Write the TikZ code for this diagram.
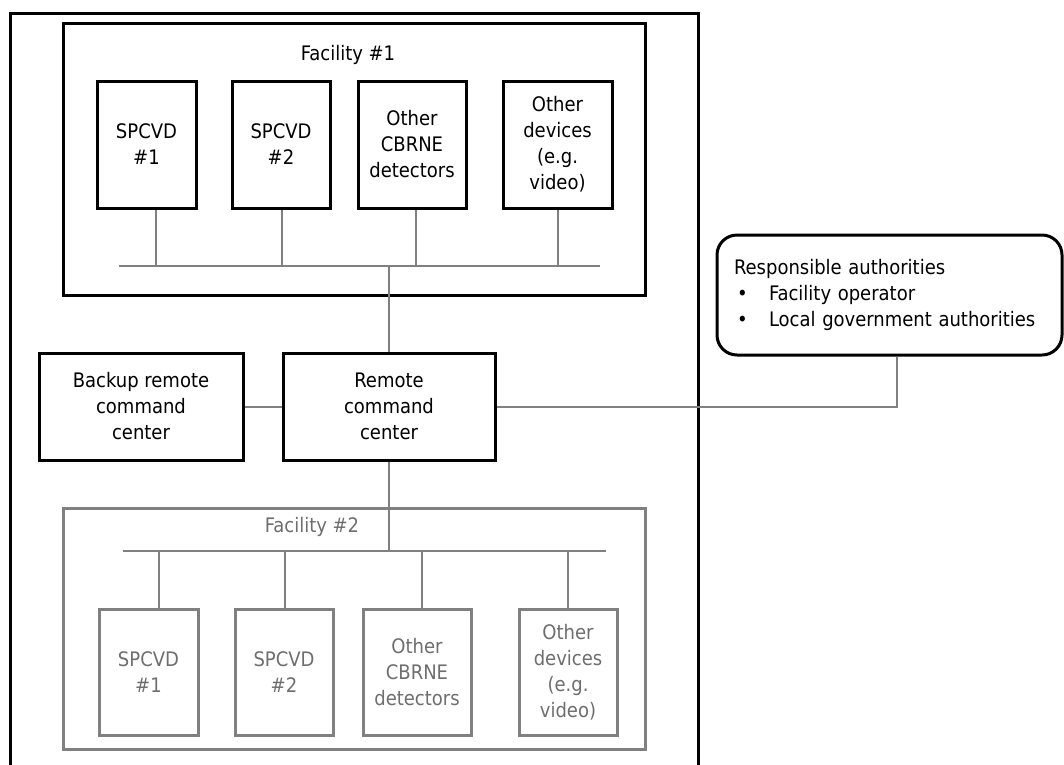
\documentclass[tikz,border=0pt]{standalone}
\usepackage{fontspec}
\setmainfont{DejaVu Sans Condensed}
\usepackage{xcolor}
\usepackage{tikz}
\usetikzlibrary{positioning,calc}

\definecolor{linegray}{HTML}{808080}
\definecolor{textgray}{HTML}{6E6E6E}

\begin{document}
\begin{tikzpicture}[x=1pt, y=-1pt,
  box/.style={rectangle, draw, line width=3pt, align=center, inner sep=0pt, font=\fontsize{20}{26}\selectfont},
  dev/.style={box, minimum height=127pt},
  grey/.style={draw=linegray, text=textgray},
  wire/.style={draw=linegray, line width=2pt},
  every node/.style={inner sep=0pt}
]
\useasboundingbox (0,0) rectangle (1064,764);

% Outer frame (open at the bottom)
\draw[line width=3pt] (10,770) -- (10,13) -- (698,13) -- (698,770);

% Facility #1
\node[box, minimum width=582pt, minimum height=272pt] (fac1) at (354,159) {};
\node[font=\fontsize{20}{26}\selectfont] (fac1lbl) at (348,55) {Facility \#1};
\node[dev, minimum width=99pt] (s1a) at (146.5,144.5) {SPCVD\\\#1};
\node[dev, minimum width=98pt] (s2a) at (281,144.5) {SPCVD\\\#2};
\node[dev, minimum width=108pt] (cba) at (412,144.5) {Other\\CBRNE\\detectors};
\node[dev, minimum width=109pt] (oda) at (557.5,144.5) {Other\\devices\\(e.g.\\video)};
\coordinate (bus1w) at (119,266);
\coordinate (bus1e) at (600,266);
\draw[wire] (bus1w) -- (bus1e);
\draw[wire] ([xshift=9.5pt]s1a.south) -- ([xshift=9.5pt]s1a.south |- bus1w);
\draw[wire] ([xshift=1pt]s2a.south) -- ([xshift=1pt]s2a.south |- bus1w);
\draw[wire] ([xshift=4pt]cba.south) -- ([xshift=4pt]cba.south |- bus1w);
\draw[wire] (oda.south) -- (oda.south |- bus1w);

% Command centers
\node[box, minimum width=212pt, minimum height=107pt] (rcc) at (389,406.5) {Remote\\command\\center};
\node[box, minimum width=204pt, minimum height=107pt] (brcc) at (141,406.5) {Backup remote\\command\\center};
\draw[wire] (rcc.north) -- (rcc.north |- bus1w);
\draw[wire] (brcc.east) -- (rcc.west);

% Authorities
\node[box, rounded corners=20pt, minimum width=345pt, minimum height=120pt, text width=311pt, align=left] (auth) at (889.5,295)
  {Responsible authorities\\
   \hspace*{3pt}\makebox[32pt][l]{\textbullet}Facility operator\\
   \hspace*{3pt}\makebox[32pt][l]{\textbullet}Local government authorities};
\draw[wire] (rcc.east) -| ([xshift=7.5pt]auth.south);

% Facility #2
\node[box, grey, minimum width=582pt, minimum height=241pt] (fac2) at (354,628.5) {};
\node[font=\fontsize{20}{26}\selectfont, text=textgray] (fac2lbl) at (312,527) {Facility \#2};
\node[dev, grey, minimum width=99pt, minimum height=126pt] (s1b) at (148.5,672) {SPCVD\\\#1};
\node[dev, grey, minimum width=98pt, minimum height=126pt] (s2b) at (284,672) {SPCVD\\\#2};
\node[dev, grey, minimum width=108pt, minimum height=126pt] (cbb) at (417,672) {Other\\CBRNE\\detectors};
\node[dev, grey, minimum width=98pt, minimum height=126pt] (odb) at (568,672) {Other\\devices\\(e.g.\\video)};
\coordinate (bus2w) at (123,551);
\coordinate (bus2e) at (606,551);
\draw[wire] (bus2w) -- (bus2e);
\draw[wire] (rcc.south) -- (rcc.south |- bus2w);
\draw[wire] ([xshift=10.5pt]s1b.north) -- ([xshift=10.5pt]s1b.north |- bus2w);
\draw[wire] ([xshift=1pt]s2b.north) -- ([xshift=1pt]s2b.north |- bus2w);
\draw[wire] ([xshift=5pt]cbb.north) -- ([xshift=5pt]cbb.north |- bus2w);
\draw[wire] (odb.north) -- (odb.north |- bus2w);

\end{tikzpicture}
\end{document}
